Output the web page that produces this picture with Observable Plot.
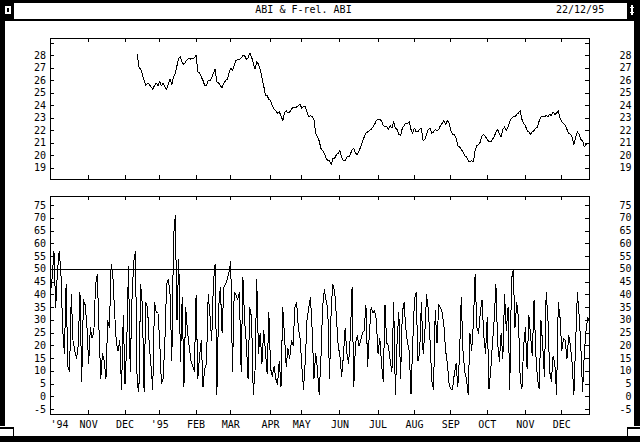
<!DOCTYPE html>
<html><head><meta charset="utf-8">
<script src="https://cdn.jsdelivr.net/npm/d3@7"></script>
<script src="https://cdn.jsdelivr.net/npm/@observablehq/plot@0.6"></script>
<style>
html,body{margin:0;padding:0;background:#fff;}
#win{position:relative;width:640px;height:442px;overflow:hidden;background:#fff;font-family:"DejaVu Sans Mono",monospace;font-size:10px;color:#000;}
.b{position:absolute;background:#000;}
.w{position:absolute;background:#fff;}
#title{position:absolute;top:3px;left:0;width:607px;text-align:center;line-height:14px;white-space:pre;}
#date{position:absolute;top:3px;left:556px;line-height:14px;}
.chart{position:absolute;left:0;}
.chart svg{shape-rendering:crispEdges;display:block;}
</style></head>
<body>
<div id="win">
  <div class="b" style="left:0;top:0;width:640px;height:3px"></div>
  <div class="b" style="left:0;top:19px;width:640px;height:2px"></div>
  <div class="b" style="left:0;top:0;width:5px;height:426px"></div>
  <div class="b" style="left:634px;top:0;width:6px;height:426px"></div>
  <div class="b" style="left:0;top:0;width:14px;height:20px"></div>
  <div class="w" style="left:5px;top:6px;width:6px;height:8px"></div>
  <div class="b" style="left:7px;top:8px;width:2px;height:4px"></div>
  <div class="b" style="left:627px;top:0;width:13px;height:20px"></div>
  <div class="w" style="left:631px;top:5px;width:1px;height:10px"></div>
  <div class="w" style="left:632px;top:5px;width:1px;height:10px"></div>
  <div class="w" style="left:630px;top:7px;width:4px;height:1px"></div>
  <div class="w" style="left:630px;top:12px;width:4px;height:1px"></div>
  <div class="b" style="left:0;top:427px;width:14px;height:2px"></div>
  <div class="b" style="left:13px;top:427px;width:1px;height:10px"></div>
  <div class="b" style="left:627px;top:427px;width:13px;height:2px"></div>
  <div class="b" style="left:627px;top:427px;width:1px;height:10px"></div>
  <div class="b" style="left:0;top:436px;width:640px;height:6px"></div>
  <div id="title">ABI &amp; F-rel. ABI</div>
  <div id="date">22/12/95</div>
  <div class="chart" id="topChart" style="top:30px"></div>
  <div class="chart" id="botChart" style="top:188px"></div>
</div>
<script>
// ---- data ----
const monthIdx = [0,22,43,63,84,104,127,145,167,189,210,231,252,274,295];
const monthLabels = ["'94","NOV","DEC","'95","FEB","MAR","APR","MAY","JUN","JUL","AUG","SEP","OCT","NOV","DEC"];
const priceLabels = [19,20,21,22,23,24,25,26,27,28];
const priceTickVals = [19,20,21,22,23,24,25,26,27,28,29];
const oscLabels = [-5,0,5,10,15,20,25,30,35,40,45,50,55,60,65,70,75];
const oscLevel = [50];
const priceStart = 50;
const priceVals = [
28.1,27.1,26.9,26.5,26.0,25.6,25.8,25.7,25.5,25.3,
25.6,25.8,25.6,25.9,25.6,25.8,25.5,25.3,25.7,26.1,
25.7,26.3,26.6,27.2,27.8,27.9,27.4,27.3,27.5,27.7,
27.8,27.7,27.8,27.8,28.0,26.7,26.6,26.3,26.0,25.6,
25.6,26.0,26.0,26.2,26.6,26.9,25.9,25.8,
25.6,25.4,25.8,26.0,26.1,26.6,27.0,26.8,27.2,27.6,
27.7,27.7,27.8,28.0,28.0,27.7,27.8,28.2,27.9,27.4,
26.9,27.5,27.3,26.9,26.2,25.6,24.8,24.8,24.5,24.4,
24.0,23.7,23.6,23.4,23.5,23.2,22.8,23.4,23.6,23.4,
23.5,23.7,23.9,23.8,23.9,24.0,24.1,23.8,23.9,23.9,
23.5,23.1,23.2,23.1,22.9,21.8,21.5,21.2,20.6,20.4,
20.2,19.8,19.6,19.6,19.3,19.8,19.8,20.1,20.2,20.4,
19.9,19.6,19.6,19.9,19.9,20.1,20.5,20.6,20.2,20.1,
20.4,20.7,21.1,21.5,21.8,21.9,22.0,22.1,22.3,22.5,
22.8,22.9,22.9,22.8,22.4,22.3,22.3,22.1,22.4,22.2,
22.7,22.2,22.1,21.7,21.6,22.2,22.4,22.6,22.6,22.7,
22.1,21.8,22.2,21.9,
21.9,22.1,22.2,21.2,
21.3,21.7,22.1,22.2,21.8,21.9,22.1,22.0,22.1,22.4,
22.6,22.8,22.5,22.8,22.6,22.0,21.7,21.7,21.4,20.8,
20.7,20.5,20.3,20.0,19.9,19.6,19.5,19.6,19.5,20.4,
20.8,20.9,21.1,21.6,21.7,21.5,21.3,21.1,21.1,21.3,
21.5,21.9,22.1,21.7,21.5,22.1,22.3,22.0,22.3,22.7,
23.0,23.1,23.1,23.3,23.4,23.6,22.9,22.6,22.4,22.0,
21.9,21.7,21.9,22.0,22.2,22.3,22.8,23.1,23.1,23.1,
23.2,23.1,23.3,23.2,23.5,23.3,23.4,23.6,23.0,22.7,
22.6,22.4,22.1,21.8,21.7,21.5,20.9,21.5,21.9,21.7,
21.3,21.2,20.7,20.9,21.0,21.0
];
const oscVals = [
41,47,57,35,49,57,49,27,17,44, 12,10,40,22,18,15,20,41,6,38,
36,28,13,27,23,25,44,48,26,7, 17,14,7,30,27,52,47,33,21,18,
22,3,32,5,21,51,10,38,53,57, 5,2,44,36,2,37,35,20,12,3,
37,33,
33,22,5,7,22,44,46,40,14,63, 71,30,54,14,39,4,35,26,20,14,
12,10,40,7,16,22,4,11,13,40, 32,22,45,52,1,35,43,25,43,44,
46,49,53,10,41,40,38,41,10,47, 30,21,7,35,31,1,10,46,17,25,
13,26,18,
9,33,11,8,12,7,5,14,4,35, 24,12,19,15,22,20,35,37,27,23,
12,3,14,30,35,39,26,7,17,11, 1,14,35,42,38,34,7,36,44,41,
31,20,16,8,16,27,17,13,24,43, 4,21,24,20,22,25,26,36,12,25,
35,
33,34,30,17,23,13,6,36,21,20, 14,10,37,1,22,33,7,33,37,27,
21,18,1,21,38,41,14,17,37,17, 25,40,34,22,6,3,34,21,36,35,
33,28,18,13,5,3,3,9,13,4, 16,39,18,10,7,1,25,18,29,48,
27,25,33,38,
24,17,31,3,10,21,30,44,21,14, 25,15,40,26,35,3,46,50,27,37,
31,7,3,20,27,11,32,24,16,38, 17,7,3,30,20,8,41,31,10,6,
16,13,1,37,31,18,23,22,15,24, 20,13,1,21,41,32,20,2,17,26,
31,30
];

// ---- build ----
const price = priceVals.map((v, k) => ({i: priceStart + k, v}));
const osc = oscVals.map((v, i) => ({i, v}));
const xDomain = [0, oscVals.length - 1];
const ML = 50, MR = 51, TL = 4;
const FW = 640 - ML - MR;
const font = {fontFamily: "DejaVu Sans Mono, monospace", fontSize: 10, fill: "#000"};

function panel({height, mt, mb, yDomain, tickVals, labels, lineData, extra, xLabels}) {
  const FH = height - mt - mb;
  const marks = [
    Plot.frame({stroke: "#000", strokeWidth: 1}),
    Plot.tickX(monthIdx, {x: d => d, stroke: "#000", insetTop: FH - TL}),
    Plot.tickX(monthIdx, {x: d => d, stroke: "#000", insetBottom: FH - TL}),
    Plot.tickY(tickVals, {y: d => d, stroke: "#000", insetRight: FW - TL}),
    Plot.tickY(tickVals, {y: d => d, stroke: "#000", insetLeft: FW - TL}),
    Plot.text(labels, {y: d => d, text: d => String(d), frameAnchor: "left", dx: -4.5, textAnchor: "end", ...font}),
    Plot.text(labels, {y: d => d, text: d => String(d), frameAnchor: "right", dx: 42, textAnchor: "end", ...font}),
    ...extra,
    Plot.line(lineData, {x: "i", y: "v", stroke: "#000", strokeWidth: 1})
  ];
  if (xLabels) {
    const pairs = monthIdx.map((x, k) => ({x, t: monthLabels[k]}));
    marks.push(Plot.text(pairs.slice(0, 1), {x: "x", text: "t", frameAnchor: "bottom", dy: 13, textAnchor: "start", ...font}));
    marks.push(Plot.text(pairs.slice(1), {x: "x", text: "t", frameAnchor: "bottom", dy: 13, textAnchor: "middle", ...font}));
  }
  return Plot.plot({
    width: 640, height,
    marginLeft: ML, marginRight: MR, marginTop: mt, marginBottom: mb,
    x: {domain: xDomain, axis: null},
    y: {domain: yDomain, axis: null},
    style: {background: "transparent", color: "#000", fontFamily: "DejaVu Sans Mono, monospace", fontSize: "10px", overflow: "visible"},
    marks
  });
}

document.getElementById("topChart").appendChild(panel({
  height: 155, mt: 8, mb: 6,
  yDomain: [18.1, 29.36],
  tickVals: priceTickVals, labels: priceLabels,
  lineData: price, extra: [], xLabels: false
}));

document.getElementById("botChart").appendChild(panel({
  height: 250, mt: 8, mb: 24,
  yDomain: [-6.96, 78.53],
  tickVals: oscLabels, labels: oscLabels,
  lineData: osc,
  extra: [Plot.ruleY(oscLevel, {stroke: "#000", strokeWidth: 1})],
  xLabels: true
}));
</script>
</body></html>
